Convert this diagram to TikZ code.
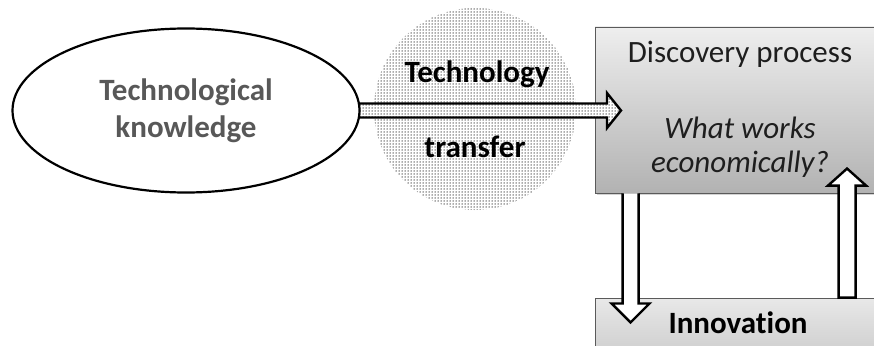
\documentclass[tikz,border=0pt]{standalone}
\usepackage{fontspec}
\setmainfont{Carlito}[Ligatures={NoCommon}]
\usetikzlibrary{shapes.geometric,patterns.meta,calc,shadows}
\definecolor{boxtop}{RGB}{238,238,238}
\definecolor{boxbot}{RGB}{178,178,178}
\definecolor{inntop}{RGB}{232,232,232}
\definecolor{innbot}{RGB}{200,200,200}
\definecolor{tkgray}{RGB}{88,88,88}
\definecolor{txtdark}{RGB}{30,30,30}
\definecolor{dotgray}{RGB}{85,85,85}
\tikzset{
  blockarrow/.style={line width=2.4pt, line join=miter},
  boxstyle/.style={rectangle, draw={rgb,255:red,90;green,90;blue,90}, line width=0.9pt, inner sep=0pt,
    drop shadow={opacity=0.35, shadow xshift=1.5pt, shadow yshift=-2pt}},
  bigtext/.style={font=\fontsize{31}{37}\selectfont, align=center, inner sep=0pt, anchor=base},
  dotfill/.style={pattern={Dots[distance=3pt, radius=0.75pt]}, pattern color=dotgray},
}
\begin{document}
\begin{tikzpicture}[x=1pt,y=-1pt]
\useasboundingbox (0,0) rectangle (874,345);
% technology transfer cloud
\node[circle, minimum size=202pt, inner sep=0pt, dotfill] (tt) at (475,109) {};
% boxes
\node[boxstyle, minimum width=295pt, minimum height=166pt, top color=boxtop, bottom color=boxbot] (dp) at (742.5,110) {};
\node[boxstyle, minimum width=295pt, minimum height=70pt, top color=inntop, bottom color=innbot] (inn) at (742.5,333) {};
% coordinates
\coordinate (tipH) at (621,110.5);
\coordinate (hs) at ($(tipH)+(-266,0)$);
\coordinate (dS) at ($(dp.south west)+(36,0)$);
\coordinate (tD) at ($(dS)+(0,129)$);
\coordinate (uS) at ($(inn.north west)+(252.5,0)$);
\coordinate (tU) at ($(uS)+(0,-129)$);
% horizontal arrow
\path[fill=white] ($(hs)+(0,-7)$) -- ($(tipH)+(-14,-7)$) -- ($(tipH)+(-14,-17.5)$) -- (tipH)
  -- ($(tipH)+(-14,17.5)$) -- ($(tipH)+(-14,7)$) -- ($(hs)+(0,7)$) -- cycle;
\path[dotfill] ($(hs)+(0,-7)$) -- ($(tipH)+(-14,-7)$) -- ($(tipH)+(-14,-17.5)$) -- (tipH)
  -- ($(tipH)+(-14,17.5)$) -- ($(tipH)+(-14,7)$) -- ($(hs)+(0,7)$) -- cycle;
\draw[blockarrow] ($(hs)+(0,-7)$) -- ($(tipH)+(-14,-7)$) -- ($(tipH)+(-14,-17.5)$) -- (tipH)
  -- ($(tipH)+(-14,17.5)$) -- ($(tipH)+(-14,7)$) -- ($(hs)+(0,7)$);
% ellipse
\node[ellipse, draw, fill=white, line width=2.2pt, minimum width=347pt, minimum height=164pt, inner sep=0pt] (tk) at (186,110.5) {};
% down arrow
\draw[blockarrow, fill=white] ($(dS)+(-8,0)$) -- ($(tD)+(-8,-19)$) -- ($(tD)+(-19,-19)$) -- (tD)
  -- ($(tD)+(19,-19)$) -- ($(tD)+(8,-19)$) -- ($(dS)+(8,0)$);
% up arrow
\draw[blockarrow, fill=white] ($(uS)+(-8.5,0)$) -- ($(tU)+(-8.5,17)$) -- ($(tU)+(-19,17)$) -- (tU)
  -- ($(tU)+(19,17)$) -- ($(tU)+(8.5,17)$) -- ($(uS)+(8.5,0)$) -- cycle;
% texts
\node[bigtext, text=tkgray, font=\fontsize{31}{37}\selectfont\bfseries] (tkt) at (186,137) {Technological\\knowledge};
\node[bigtext, text=black, font=\fontsize{31}{37}\selectfont\bfseries] (ttt1) at (477,82) {Technology};
\node[bigtext, text=black, font=\fontsize{31}{37}\selectfont\bfseries] (ttt2) at (475,157) {transfer};
\node[bigtext, text=txtdark] (dpt) at (740,63) {Discovery process};
\node[bigtext, text=txtdark, font=\fontsize{31}{34}\selectfont\itshape] (dpq) at (740,172) {What works\\economically?};
\node[bigtext, text=black, font=\fontsize{31}{37}\selectfont\bfseries] (innt) at (738,333) {Innovation};
\end{tikzpicture}
\end{document}
